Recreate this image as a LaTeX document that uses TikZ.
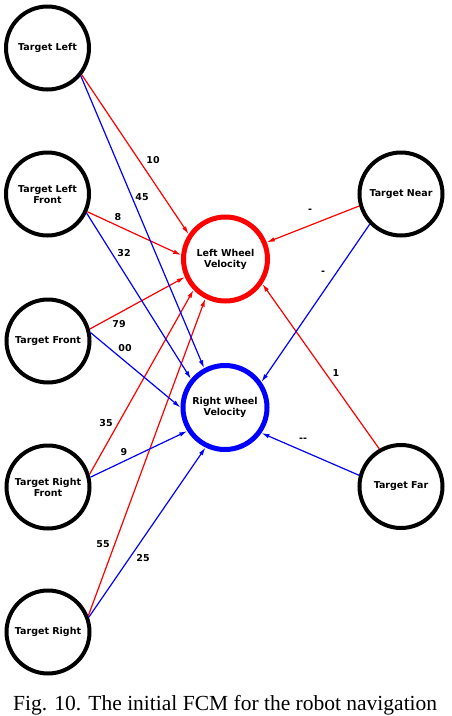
\documentclass[tikz,border=0pt]{standalone}
\usepackage{fontspec}
\setmainfont{Liberation Serif}
\newfontfamily\fcmfont{DejaVu Sans}
\usetikzlibrary{arrows.meta}

\tikzset{
  concept/.style={circle, draw=black, line width=4pt, minimum size=83pt,
    inner sep=0pt, align=center, font=\fcmfont\bfseries\fontsize{9.5}{11}\selectfont},
  wheel/.style={concept, line width=5pt, minimum size=84pt},
  weight/.style={font=\fcmfont\bfseries\fontsize{9.5}{11}\selectfont, inner sep=1pt},
  redlink/.style={red, line width=1.2pt, -{Latex[length=8pt,width=4.5pt]}},
  bluelink/.style={blue, line width=1.2pt, -{Latex[length=8pt,width=4.5pt]}},
}

\begin{document}
\begin{tikzpicture}[x=1pt, y=-1pt]
    \useasboundingbox (0,0) rectangle (452,716);
    \fill[white] (0,0) rectangle (452,716);

    % Input concepts on the left
    \node[concept] (tl)  at (47.5,48)  {Target Left};
    \node[concept] (tlf) at (47.5,194) {Target Left\\Front};
    \node[concept] (tf)  at (48,341)   {Target Front};
    \node[concept] (trf) at (48,487)   {Target Right\\Front};
    \node[concept] (tr)  at (48,632)   {Target Right};

    % Input concepts on the right
    \node[concept] (tn)   at (401,194)   {Target Near};
    \node[concept] (tfar) at (401,486.5) {Target Far};

    % Output concepts
    \node[wheel, draw=red]  (lw) at (225.5,259)   {Left Wheel\\Velocity};
    \node[wheel, draw=blue] (rw) at (225,407.5) {Right Wheel\\Velocity};

    % Links to the left wheel
    \draw[redlink] (tl.-38)   -- (lw.146);
    \draw[redlink] (tlf.-24)  -- (lw.175);
    \draw[redlink] (tf.16)    -- (lw.204);
    \draw[redlink] (trf.17)   -- (lw.224);
    \draw[redlink] (tr.22)    -- (lw.243);
    \draw[redlink] (tn.196)   -- (lw.22);
    \draw[redlink] (tfar.120) -- (lw.-34);

    % Links to the right wheel
    \draw[bluelink] (tl.-40)   -- (rw.118);
    \draw[bluelink] (tlf.-26)  -- (rw.140);
    \draw[bluelink] (tf.11)    -- (rw.180);
    \draw[bluelink] (trf.13)   -- (rw.212);
    \draw[bluelink] (tr.20)    -- (rw.244);
    \draw[bluelink] (tn.224)   -- (rw.35);
    \draw[bluelink] (tfar.165) -- (rw.-35);

    % Weights
    \node[weight] (w1)  at (153,160) {10};
    \node[weight] (w2)  at (142,197) {45};
    \node[weight] (w3)  at (118,217) {8};
    \node[weight] (w4)  at (124,253) {32};
    \node[weight] (w5)  at (119,324) {79};
    \node[weight] (w6)  at (125,348) {00};
    \node[weight] (w7)  at (106,423) {35};
    \node[weight] (w8)  at (124,452) {9};
    \node[weight] (w9)  at (103,544) {55};
    \node[weight] (w10) at (143,558) {25};
    \node[weight] (w11) at (310,211) {-};
    \node[weight] (w12) at (323,273) {-};
    \node[weight] (w13) at (336,373) {1};
    \node[weight] (w14) at (303,440) {--};

    % Caption
    \node[anchor=base west, inner sep=0pt, font=\fontsize{21.5}{24}\selectfont]
      (caption) at (13,710.5) {Fig. 10. The initial FCM for the robot navigation};
\end{tikzpicture}
\end{document}
